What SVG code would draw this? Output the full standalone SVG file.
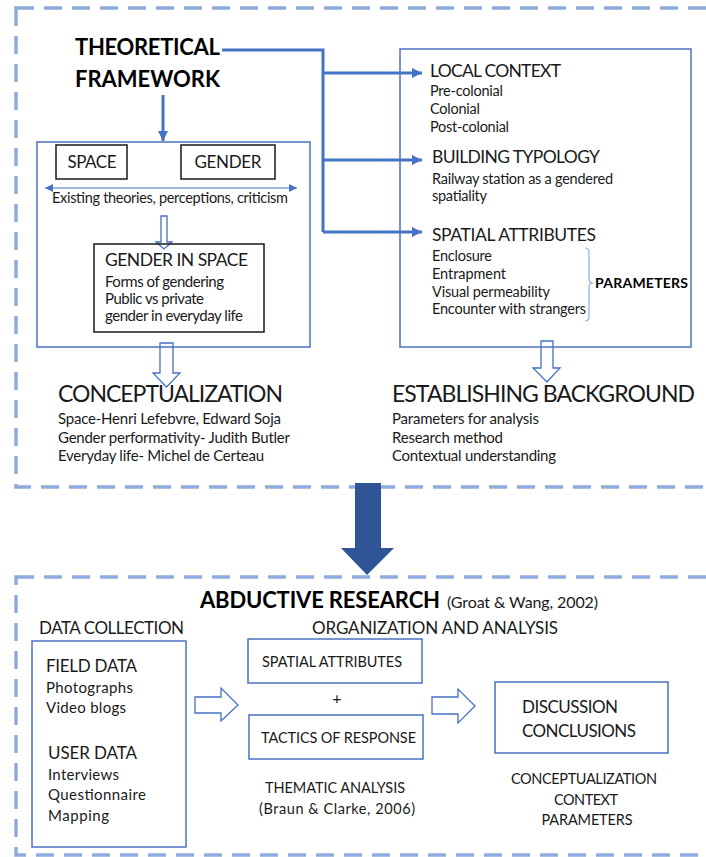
<svg xmlns="http://www.w3.org/2000/svg" width="706" height="857" viewBox="0 0 706 857">
<style>
text{font-family:Lato,"Open Sans","Liberation Sans",sans-serif;fill:#1a1a1a}
.b{font-weight:bold;fill:#000}
.dash{fill:none;stroke:#8FAADC;stroke-width:3.5;stroke-dasharray:18 10}
.bx{fill:none;stroke:#4A72C0;stroke-width:1.5}
.kx{fill:none;stroke:#1a1a1a;stroke-width:1.5}
.con{fill:none;stroke:#4472C4;stroke-width:3}
.hol{fill:#fff;stroke:#4472C4;stroke-width:1.3}
.t13{font-size:14.5px}.t14{font-size:15px}.t16{font-size:17px}.t17{font-size:17.5px}
</style>
<defs>
<marker id="ah" viewBox="0 0 10 10" refX="10" refY="5" markerUnits="userSpaceOnUse" markerWidth="11" markerHeight="10" orient="auto"><path d="M0,0L10,5L0,10z" fill="#4472C4"/></marker>
<marker id="sh" viewBox="0 0 10 10" refX="10" refY="5" markerUnits="userSpaceOnUse" markerWidth="8" markerHeight="8" orient="auto-start-reverse"><path d="M0,0L10,5L0,10z" fill="#4472C4"/></marker>
</defs>
<rect width="706" height="857" fill="#fff"/>
<g id="frames">
<rect class="dash" x="16" y="8" width="720" height="479"/>
<rect class="dash" x="16" y="577" width="720" height="278"/>
</g>
<g id="connectors">
<path class="con" d="M222,50H323V232"/>
<path class="con" d="M323,73H422" marker-end="url(#ah)"/>
<path class="con" d="M323,160H422" marker-end="url(#ah)"/>
<path class="con" d="M323,232H422" marker-end="url(#ah)"/>
<path class="con" stroke-width="2.5" d="M163,95V141" marker-end="url(#ah)"/>
<line x1="45" y1="188" x2="297" y2="188" stroke="#4472C4" stroke-width="1.2" marker-start="url(#sh)" marker-end="url(#sh)"/>
<polygon class="hol" points="161,216 167,216 167,242 172,242 164,249 156,242 161,242"/>
<polygon class="hol" points="160,343 173,343 173,373 180,373 166.5,387 153,373 160,373"/>
<polygon class="hol" points="541,341 553,341 553,368 560,368 547,382 533,368 541,368"/>
<polygon fill="#2F5597" points="355,483 381,483 381,548 394,548 367,575 341,548 355,548"/>
<polygon class="hol" points="195,697 221,697 221,688 238,705 221,721 221,713 195,713"/>
<polygon class="hol" points="432,697 458,697 458,689 475,706 458,723 458,714 432,714"/>
</g>
<g id="theoretical-framework">
<text class="b" font-size="22" x="75" y="55" textLength="145">THEORETICAL</text>
<text class="b" font-size="22" x="75" y="87" textLength="145">FRAMEWORK</text>
</g>
<g id="space-gender">
<rect class="kx" x="56" y="145" width="71" height="34"/>
<rect class="bx" x="37" y="142" width="273" height="205"/>
<text class="t16" x="92" y="168" text-anchor="middle" textLength="49">SPACE</text>
<rect class="kx" x="181" y="145" width="94" height="34"/>
<text class="t16" x="228" y="168" text-anchor="middle" textLength="67">GENDER</text>
<text class="t13" x="52" y="203" textLength="236">Existing theories, perceptions, criticism</text>
</g>
<g id="gender-in-space">
<rect class="kx" x="94" y="244" width="170" height="88"/>
<text class="t17" x="105" y="266" textLength="143">GENDER IN SPACE</text>
<text class="t14" x="105" y="287" textLength="119">Forms of gendering</text>
<text class="t14" x="105" y="304" textLength="99">Public vs private</text>
<text class="t14" x="105" y="321" textLength="138">gender in everyday life</text>
</g>
<g id="conceptualization">
<text font-size="23" x="58" y="402" textLength="225">CONCEPTUALIZATION</text>
<text class="t14" x="58" y="424" textLength="223">Space-Henri Lefebvre, Edward Soja</text>
<text class="t14" x="58" y="443" textLength="232">Gender performativity- Judith Butler</text>
<text class="t14" x="58" y="461" textLength="206">Everyday life- Michel de Certeau</text>
</g>
<g id="context-box">
<rect class="bx" x="400" y="49" width="291" height="298"/>
<text class="t17" x="430" y="77" textLength="131">LOCAL CONTEXT</text>
<text class="t13" x="430" y="96" textLength="73">Pre-colonial</text>
<text class="t13" x="430" y="114" textLength="50">Colonial</text>
<text class="t13" x="430" y="132" textLength="79">Post-colonial</text>
<text class="t17" x="432" y="163" textLength="168">BUILDING TYPOLOGY</text>
<text class="t13" x="432" y="184" textLength="181">Railway station as a gendered</text>
<text class="t13" x="432" y="201" textLength="55">spatiality</text>
<text class="t17" x="432" y="241" textLength="164">SPATIAL ATTRIBUTES</text>
<text class="t13" x="432" y="261" textLength="60">Enclosure</text>
<text class="t13" x="432" y="279" textLength="74">Entrapment</text>
<text class="t13" x="432" y="297" textLength="118">Visual permeability</text>
<text class="t13" x="432" y="314" textLength="154">Encounter with strangers</text>
<path d="M585,248Q589,248 589,252V279Q589,283 593,283Q589,283 589,287V317Q589,321 585,321" fill="none" stroke="#8FAADC" stroke-width="1.2"/>
<text class="b" font-size="14" x="595" y="288" textLength="93">PARAMETERS</text>
</g>
<g id="establishing-background">
<text font-size="23" x="392" y="402" textLength="303">ESTABLISHING BACKGROUND</text>
<text class="t14" x="392" y="424" textLength="147">Parameters for analysis</text>
<text class="t14" x="392" y="443" textLength="111">Research method</text>
<text class="t14" x="392" y="461" textLength="164">Contextual understanding</text>
</g>
<g id="abductive-research">
<text class="b" font-size="22" x="200" y="608" textLength="240">ABDUCTIVE RESEARCH</text>
<text font-size="16" x="447" y="608" textLength="151">(Groat &amp; Wang, 2002)</text>
</g>
<g id="data-collection">
<text class="t16" x="39" y="634" textLength="145">DATA COLLECTION</text>
<rect class="bx" x="32" y="641" width="154" height="206"/>
<text class="t16" x="46" y="672" textLength="91">FIELD DATA</text>
<text class="t14" x="46" y="693" textLength="87">Photographs</text>
<text class="t14" x="46" y="713" textLength="80">Video blogs</text>
<text class="t16" x="48" y="759" textLength="89">USER DATA</text>
<text class="t14" x="48" y="780" textLength="71">Interviews</text>
<text class="t14" x="48" y="800" textLength="98">Questionnaire</text>
<text class="t14" x="48" y="821" textLength="61">Mapping</text>
</g>
<g id="organization-analysis">
<text class="t16" x="312" y="634" textLength="246">ORGANIZATION AND ANALYSIS</text>
<rect class="bx" x="248" y="639" width="174" height="44"/>
<text class="t13" x="262" y="667" textLength="140">SPATIAL ATTRIBUTES</text>
<text font-size="16" x="337" y="704" text-anchor="middle">+</text>
<rect class="bx" x="249" y="715" width="174" height="44"/>
<text class="t13" x="261" y="743" textLength="155">TACTICS OF RESPONSE</text>
<text class="t13" x="335" y="793" text-anchor="middle" textLength="140">THEMATIC ANALYSIS</text>
<text class="t13" x="337" y="814" text-anchor="middle" textLength="156">(Braun &amp; Clarke, 2006)</text>
</g>
<g id="discussion">
<rect class="bx" x="495" y="682" width="173" height="71"/>
<text class="t16" x="522" y="713" textLength="96">DISCUSSION</text>
<text class="t16" x="522" y="737" textLength="114">CONCLUSIONS</text>
<text class="t13" x="584" y="784" text-anchor="middle" textLength="146">CONCEPTUALIZATION</text>
<text class="t13" x="586" y="805" text-anchor="middle" textLength="64">CONTEXT</text>
<text class="t13" x="587" y="825" text-anchor="middle" textLength="91">PARAMETERS</text>
</g>
</svg>
